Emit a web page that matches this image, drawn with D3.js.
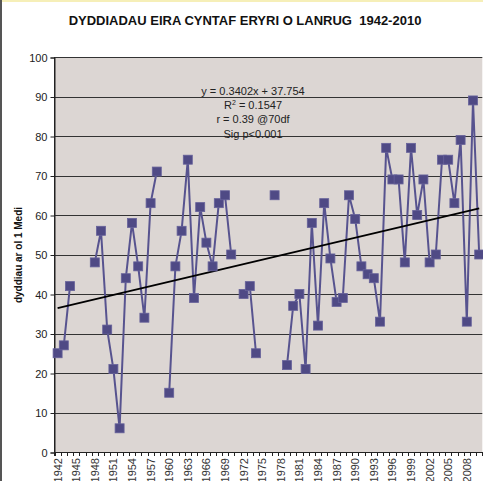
<!DOCTYPE html>
<html>
<head>
<meta charset="utf-8">
<script src="https://cdn.jsdelivr.net/npm/d3@7"></script>
<style>
  html, body { margin: 0; padding: 0; background: #fff; }
  svg { display: block; font-family: Arial, "Liberation Sans", sans-serif; }
</style>
</head>
<body>
<div id="chart"></div>
<script>
// Categories (years) and first-snow values (days after 1 September); null = no record
const years = [
  1942, 1943, 1944, 1945, 1946, 1947, 1948, 1949, 1950, 1951,
  1952, 1953, 1954, 1955, 1956, 1957, 1958, 1959, 1960, 1961,
  1962, 1963, 1964, 1965, 1966, 1967, 1968, 1969, 1970, 1971,
  1972, 1973, 1974, 1975, 1976, 1977, 1978, 1979, 1980, 1981,
  1982, 1983, 1984, 1985, 1986, 1987, 1988, 1989, 1990, 1991,
  1992, 1993, 1994, 1995, 1996, 1997, 1998, 1999, 2000, 2001,
  2002, 2003, 2004, 2005, 2006, 2007, 2008, 2009, 2010
];
const days = [
  25, 27, 42, null, null, null, 48, 56, 31, 21,
  6, 44, 58, 47, 34, 63, 71, null, 15, 47,
  56, 74, 39, 62, 53, 47, 63, 65, 50, null,
  40, 42, 25, null, null, 65, null, 22, 37, 40,
  21, 58, 32, 63, 49, 38, 39, 65, 59, 47,
  45, 44, 33, 77, 69, 69, 48, 77, 60, 69,
  48, 50, 74, 74, 63, 79, 33, 89, 50
];
// Linear trendline end points as drawn
const trendYears = [1942, 2010];
const trendValues = [36.4, 61.7];

const yTicks = [0, 10, 20, 30, 40, 50, 60, 70, 80, 90, 100];
const xTickLabels = [1942, 1945, 1948, 1951, 1954, 1957, 1960, 1963, 1966, 1969, 1972,
  1975, 1978, 1981, 1984, 1987, 1990, 1993, 1996, 1999, 2002, 2005, 2008];
const equationLines = ['y = 0.3402x + 37.754', 'R2 = 0.1547', 'r = 0.39 @70df', 'Sig p<0.001'];

const title = 'DYDDIADAU EIRA CYNTAF ERYRI O LANRUG\u00a0\u00a01942-2010';
const yLabel = 'dyddiau ar ol 1 Medi';

const width = 483, height = 481;
const plot = { left: 54.5, top: 57, bottom: 452, band: 6.2 };
plot.right = plot.left + years.length * plot.band;

const svg = d3.select('#chart').append('svg')
  .attr('width', width)
  .attr('height', height);

// outer frame bits
svg.append('rect').attr('x', 0).attr('y', 0).attr('width', width).attr('height', 2)
  .style('fill', '#f6efb8');
svg.append('rect').attr('x', 0).attr('y', 0).attr('width', 2).attr('height', height)
  .style('fill', '#555');

const x = d3.scaleBand()
  .domain(years)
  .range([plot.left, plot.right])
  .paddingInner(0).paddingOuter(0);

const y = d3.scaleLinear()
  .domain([0, 100])
  .range([plot.bottom, plot.top]);

const cx = yr => x(yr) + x.bandwidth() / 2;

// plot background
svg.append('rect')
  .attr('x', plot.left)
  .attr('y', plot.top)
  .attr('width', plot.right - plot.left)
  .attr('height', plot.bottom - plot.top)
  .style('fill', '#dcd6d3');

// gridlines
svg.append('g')
  .selectAll('line')
  .data(yTicks.filter(d => d > 0))
  .enter()
  .append('line')
  .attr('x1', plot.left)
  .attr('x2', plot.right)
  .attr('y1', d => Math.round(y(d)) + 0.5)
  .attr('y2', d => Math.round(y(d)) + 0.5)
  .style('stroke', '#333')
  .style('stroke-width', '1px');

// y axis
const yAxis = d3.axisLeft(y)
  .tickValues(yTicks)
  .tickSize(4)
  .tickPadding(3);
const gy = svg.append('g')
  .attr('transform', `translate(${plot.left},0.5)`)
  .call(yAxis);
gy.select('.domain').style('stroke', '#222');
gy.selectAll('.tick line').style('stroke', '#222');
gy.selectAll('.tick text')
  .style('font-size', '11px')
  .style('fill', '#222')
  .style('font-family', 'Arial, "Liberation Sans", sans-serif');

// x axis: ticks at category boundaries, labels every third year
const boundaries = years.map(yr => x(yr)).concat([plot.right]);
const gx = svg.append('g');
gx.append('line')
  .attr('x1', plot.left).attr('x2', plot.right)
  .attr('y1', plot.bottom + 0.5).attr('y2', plot.bottom + 0.5)
  .style('stroke', '#222');
gx.selectAll('.xtick')
  .data(boundaries)
  .enter()
  .append('line')
  .attr('class', 'xtick')
  .attr('x1', d => Math.round(d) + 0.5)
  .attr('x2', d => Math.round(d) + 0.5)
  .attr('y1', plot.bottom)
  .attr('y2', plot.bottom + 4)
  .style('stroke', '#222');
gx.selectAll('.xlabel')
  .data(xTickLabels)
  .enter()
  .append('text')
  .attr('class', 'xlabel')
  .attr('transform', d => `translate(${cx(d) + 4},${plot.bottom + 6}) rotate(-90)`)
  .attr('text-anchor', 'end')
  .style('font-size', '11px')
  .style('fill', '#333')
  .text(d => d);

// left axis line on top
svg.append('line')
  .attr('x1', plot.left).attr('x2', plot.left)
  .attr('y1', plot.top).attr('y2', plot.bottom + 4)
  .style('stroke', '#222');

// data line with gaps
const series = years.map((yr, i) => ({ year: yr, value: days[i] }));
const line = d3.line()
  .defined(d => d.value != null)
  .x(d => cx(d.year))
  .y(d => y(d.value));

svg.append('path')
  .datum(series)
  .attr('d', line)
  .style('fill', 'none')
  .style('stroke', '#57538f')
  .style('stroke-width', '2px')
  .style('stroke-linejoin', 'round');

// trendline
svg.append('line')
  .attr('x1', cx(trendYears[0]))
  .attr('y1', y(trendValues[0]))
  .attr('x2', cx(trendYears[1]))
  .attr('y2', y(trendValues[1]))
  .style('stroke', '#000')
  .style('stroke-width', '1.8px');

// square markers
const ms = 9;
svg.append('g')
  .selectAll('rect')
  .data(series.filter(d => d.value != null))
  .enter()
  .append('rect')
  .attr('x', d => cx(d.year) - ms / 2)
  .attr('y', d => y(d.value) - ms / 2)
  .attr('width', ms)
  .attr('height', ms)
  .style('fill', '#4f4a85')
  .style('stroke', '#66629a')
  .style('stroke-width', '0.8px');

// trendline equation text
const eq = svg.append('g');
equationLines.forEach((t, i) => {
  const txt = eq.append('text')
    .attr('x', 253)
    .attr('y', 95 + i * 14.2)
    .attr('text-anchor', 'middle')
    .style('font-size', '11px')
    .style('fill', '#222');
  if (t.startsWith('R2')) {
    txt.append('tspan').text('R');
    txt.append('tspan').attr('dy', -4).style('font-size', '7px').text('2');
    txt.append('tspan').attr('dy', 4).text(' = 0.1547');
  } else {
    txt.text(t);
  }
});

// title
svg.append('text')
  .attr('x', 245)
  .attr('y', 25)
  .attr('text-anchor', 'middle')
  .style('font-size', '13px')
  .style('font-weight', 'bold')
  .style('fill', '#111')
  .text(title);

// y axis title
svg.append('text')
  .attr('transform', `translate(22,255) rotate(-90)`)
  .attr('text-anchor', 'middle')
  .style('font-size', '10px')
  .style('font-weight', 'bold')
  .style('fill', '#111')
  .text(yLabel);
</script>
</body>
</html>
